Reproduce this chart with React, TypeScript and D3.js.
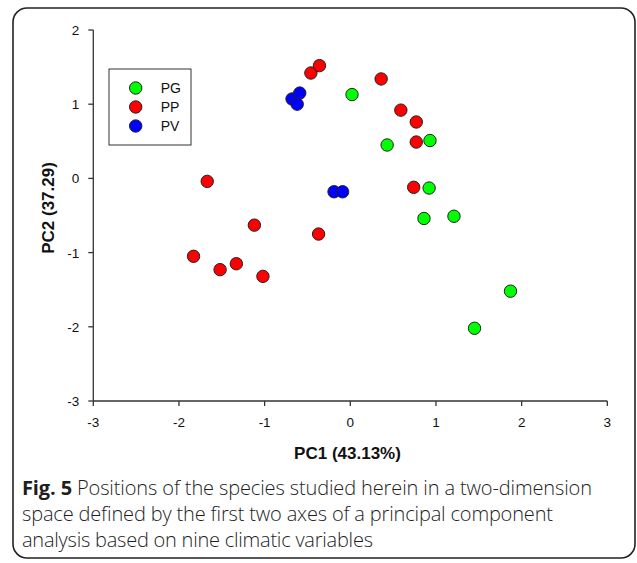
import React from 'react';
import * as d3 from 'd3';

const groups = ['PG', 'PP', 'PV'];
const groupColors = ['#00ff00', '#ff0000', '#0000ff'];

const pgX = [0.02, 0.43, 0.93, 0.92, 0.86, 1.21, 1.87, 1.45];
const pgY = [1.13, 0.45, 0.51, -0.13, -0.54, -0.51, -1.52, -2.02];

const ppX = [-0.46, -0.36, 0.36, 0.59, 0.77, 0.77, 0.74, -0.37, -1.67, -1.12, -1.83, -1.52, -1.33, -1.02];
const ppY = [1.42, 1.52, 1.34, 0.92, 0.76, 0.49, -0.12, -0.75, -0.04, -0.63, -1.05, -1.23, -1.15, -1.32];

const pvX = [-0.68, -0.59, -0.62, -0.19, -0.09];
const pvY = [1.07, 1.15, 1.0, -0.18, -0.18];

const xTicks = [-3, -2, -1, 0, 1, 2, 3];
const yTicks = [-3, -2, -1, 0, 1, 2];

const captionLines = [
  'Positions of the species studied herein in a two-dimension',
  'space defined by the first two axes of a principal component',
  'analysis based on nine climatic variables'
];
// right edge of each caption line in the figure
const captionEnds = [592, 553, 373];

const App = () => {
  const width = 637, height = 563;

  const x = d3.scaleLinear().domain([-3, 3]).range([93.3, 607.3]);
  const y = d3.scaleLinear().domain([-3, 2]).range([401, 30]);

  const series = [
    { name: groups[0], color: groupColors[0], xs: pgX, ys: pgY },
    { name: groups[1], color: groupColors[1], xs: ppX, ys: ppY },
    { name: groups[2], color: groupColors[2], xs: pvX, ys: pvY }
  ];

  const axisFont = '"Liberation Sans", Arial, sans-serif';
  const x0 = x.range()[0], x1 = x.range()[1];
  const y0 = y.range()[0], y1 = y.range()[1];

  return (
    <svg width={width} height={height} style={{ position: 'absolute', left: 0, top: 0, background: '#fff' }}>
      <rect x={13} y={8} width={622} height={550} rx={14} ry={14} fill="#fff" stroke="#222" strokeWidth={1.6} />

      {/* axes */}
      <g stroke="#333" strokeWidth={1.3} fill="none">
        <line x1={x0} x2={x1} y1={y0} y2={y0} />
        <line x1={x0} x2={x0} y1={y0} y2={y1} />
        {xTicks.map(t => (
          <line key={'xt' + t} x1={x(t)} x2={x(t)} y1={y0} y2={y0 + 5} />
        ))}
        {yTicks.map(t => (
          <line key={'yt' + t} x1={x0} x2={x0 - 5} y1={y(t)} y2={y(t)} />
        ))}
      </g>
      <g fontFamily={axisFont} fontSize={13.5} fill="#111">
        {xTicks.map(t => (
          <text key={'xl' + t} x={x(t)} y={y0 + 25.5} textAnchor="middle">{t}</text>
        ))}
        {yTicks.map(t => (
          <text key={'yl' + t} x={x0 - 14} y={y(t) + 5} textAnchor="end">{t}</text>
        ))}
      </g>

      <text x={347.5} y={459.3} textAnchor="middle" fontFamily={axisFont} fontWeight="bold" fontSize={17} fill="#111">
        PC1 (43.13%)
      </text>
      <text
        transform={`translate(54, 208) rotate(-90)`}
        textAnchor="middle"
        fontFamily={axisFont}
        fontWeight="bold"
        fontSize={17}
        fill="#111"
      >
        PC2 (37.29)
      </text>

      {/* points */}
      {series.map(s => (
        <g key={s.name}>
          {s.xs.map((v, i) => (
            <circle key={i} cx={x(v)} cy={y(s.ys[i])} r={6.2} fill={s.color} stroke="#222" strokeWidth={1} />
          ))}
        </g>
      ))}

      {/* legend */}
      <rect x={109} y={69} width={82} height={76} fill="#fff" stroke="#333" strokeWidth={1} />
      {series.map((s, i) => (
        <g key={'lg' + s.name} transform={`translate(0, ${88 + i * 19})`}>
          <circle cx={135.7} cy={0} r={6.2} fill={s.color} stroke="#222" strokeWidth={1} />
          <text x={160.7} y={5} fontFamily={axisFont} fontSize={14} fill="#111">{s.name}</text>
        </g>
      ))}

      {/* caption */}
      <g fontFamily='"Open Sans", sans-serif' fontSize={20} fontWeight={300} fill="#1e1e1e">
        {captionLines.map((line, i) => (
          <text key={i} x={22} y={495 + i * 26.2} textLength={captionEnds[i] - 22} lengthAdjust="spacing">
            {i === 0 ? <tspan fontWeight="bold">Fig. 5 </tspan> : null}
            {line}
          </text>
        ))}
      </g>
    </svg>
  );
};

export default App;
